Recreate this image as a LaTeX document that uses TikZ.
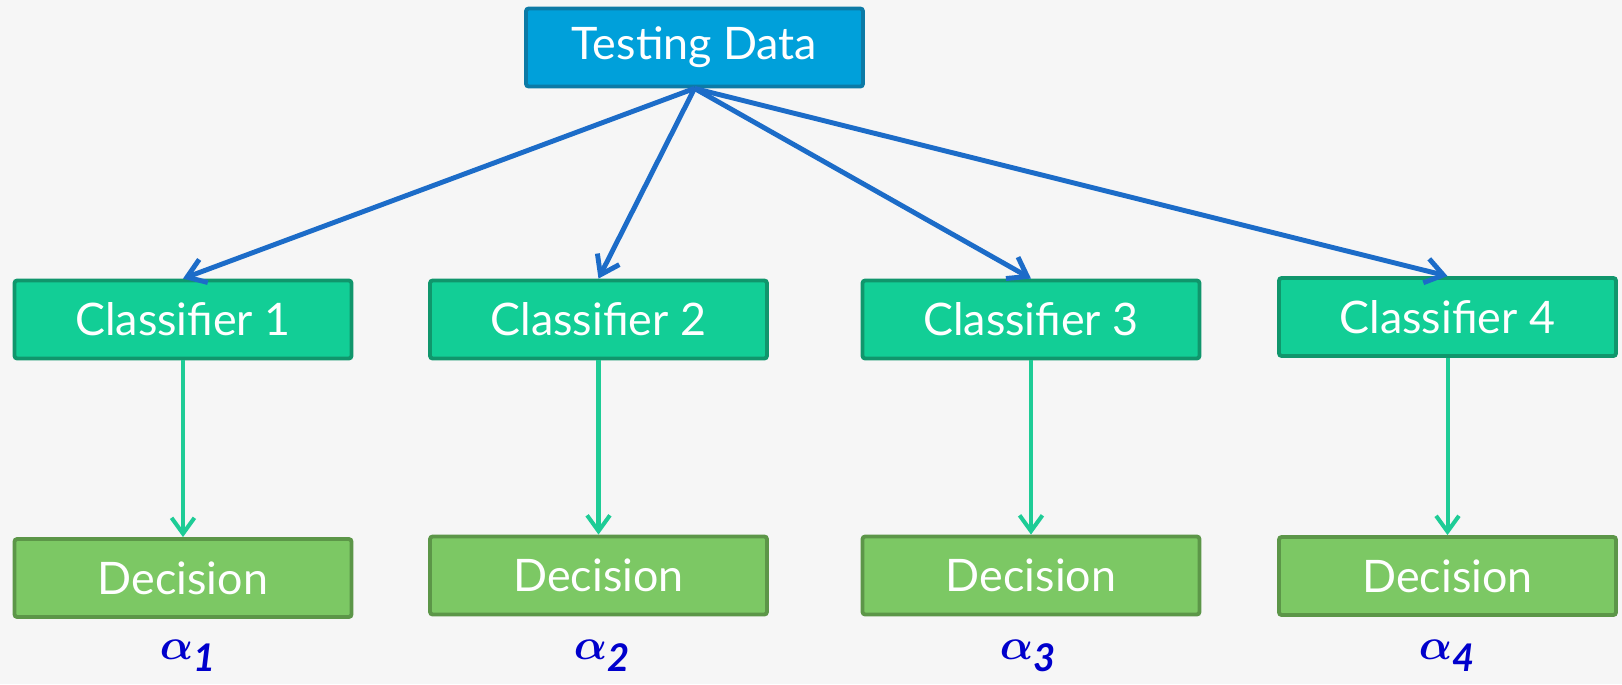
\documentclass[tikz,border=0pt]{standalone}
\usepackage{amsmath, amssymb, bm}
\usepackage{fontspec}
\setmainfont{Lato}
\usepackage{tikz}
\usetikzlibrary{arrows.meta}
\definecolor{bgColor}{RGB}{246, 246, 246}
\definecolor{dataFill}{RGB}{0, 160, 218}
\definecolor{dataDraw}{RGB}{12, 122, 166}
\definecolor{clfFill}{RGB}{18, 206, 150}
\definecolor{clfDraw}{RGB}{16, 150, 108}
\definecolor{decFill}{RGB}{124, 200, 100}
\definecolor{decDraw}{RGB}{92, 150, 72}
\definecolor{linkBlue}{RGB}{28, 108, 200}
\definecolor{linkGreen}{RGB}{30, 204, 150}
\definecolor{alphaBlue}{RGB}{0, 0, 204}

\begin{document}
\begin{tikzpicture}[x=0.02cm, y=-0.02cm,
	box/.style={rectangle, rounded corners=1.5pt, line width=2.2pt, text=white,
		minimum width=6.74cm, minimum height=1.56cm, inner sep=0pt,
		font=\fontsize{25.5}{30}\selectfont},
	databox/.style={box, fill=dataFill, draw=dataDraw},
	clfbox/.style={box, fill=clfFill, draw=clfDraw},
	decbox/.style={box, fill=decFill, draw=decDraw},
	toclf/.style={-{Straight Barb[length=10pt, width=14pt]}, line width=2.8pt, linkBlue},
	todec/.style={-{Straight Barb[length=9pt, width=13pt]}, line width=2.3pt, linkGreen},
	weight/.style={text=alphaBlue, inner sep=1pt, font=\fontsize{31}{34}\selectfont\boldmath}]
	% Background
	\fill[bgColor] (0,0) rectangle (1622,684);
	\useasboundingbox (0,0) rectangle (1622,684);
	
	% Testing data
	\node[databox] (data) at (694.5, 47.5) {Testing Data};
	
	% Classifiers
	\node[clfbox] (clf1) at (183, 319.5) {Classifier 1};
	\node[clfbox] (clf2) at (598.5, 319.5) {Classifier 2};
	\node[clfbox] (clf3) at (1031, 319.5) {Classifier 3};
	\node[clfbox] (clf4) at (1447.5, 317) {Classifier 4};
	
	% Decisions
	\node[decbox] (dec1) at (183, 578) {Decision};
	\node[decbox] (dec2) at (598.5, 575.5) {Decision};
	\node[decbox] (dec3) at (1031, 575.5) {Decision};
	\node[decbox] (dec4) at (1447.5, 576) {Decision};
	
	% Weights
	\node[weight] (w1) at (188, 656) {$\alpha_{\textbf{\textit{1}}}$};
	\node[weight] (w2) at (602, 656) {$\alpha_{\textbf{\textit{2}}}$};
	\node[weight] (w3) at (1028, 656) {$\alpha_{\textbf{\textit{3}}}$};
	\node[weight] (w4) at (1447, 656) {$\alpha_{\textbf{\textit{4}}}$};
	
	% Links
	\foreach \i in {1,...,4} {
		\draw[toclf] (data.south) -- (clf\i.north);
		\draw[todec] (clf\i.south) -- (dec\i.north);
	}
\end{tikzpicture}
\end{document}
